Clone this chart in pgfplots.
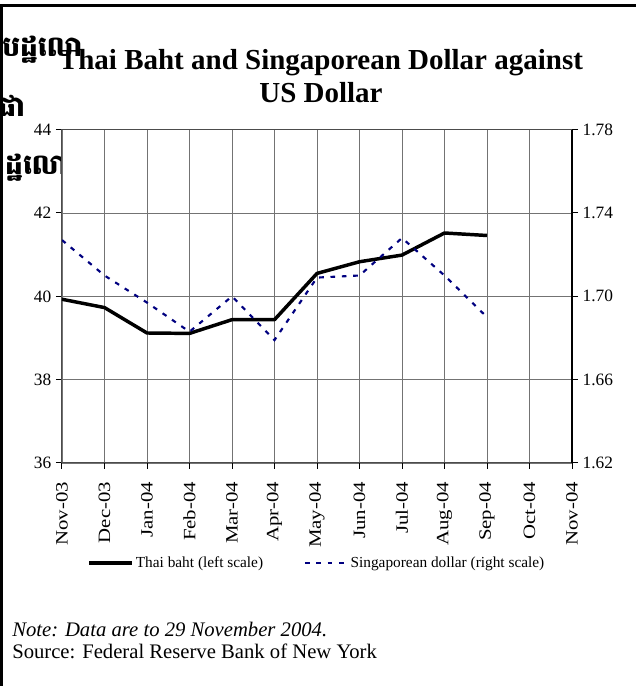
\documentclass[border=0pt]{standalone}
\usepackage{fontspec}
\setmainfont{Liberation Serif}
\newfontfamily\khmerfont[Script=Khmer]{Battambang}
\newfontfamily\stretchserif[FakeStretch=1.2]{Liberation Serif}
\usepackage{pgfplots}
\pgfplotsset{compat=1.18}
\definecolor{sgdblue}{HTML}{000080}

\begin{document}
\begin{tikzpicture}
\path[use as bounding box] (0pt,0pt) rectangle (477pt,514.5pt);

% Khmer fragments cut off at the left edge
\node[font=\khmerfont\bfseries\fontsize{21}{21}\selectfont, anchor=base east, inner sep=0] at (62pt,472pt) {ទីបដ្ឋលោ};
\node[font=\khmerfont\bfseries\fontsize{21}{21}\selectfont, anchor=base east, inner sep=0] at (19pt,427pt) {ផា};
\node[font=\khmerfont\bfseries\fontsize{21}{21}\selectfont, anchor=base east, inner sep=0] at (60pt,383.5pt) {ដ្ឋលោះ};

% left scale: Thai baht
\begin{axis}[
    at={(46.5pt,167.25pt)}, anchor=south west,
    scale only axis, width=382.5pt, height=250pt,
    xmin=0, xmax=12, ymin=36, ymax=44,
    xtick={0,...,12},
    xticklabels={Nov-03,Dec-03,Jan-04,Feb-04,Mar-04,Apr-04,May-04,Jun-04,Jul-04,Aug-04,Sep-04,Oct-04,Nov-04},
    ytick={36,38,40,42,44}, yticklabels={36,38,40,42,44},
    xtick pos=bottom, ytick pos=left,
    tick align=outside, major tick length=4.5pt,
    every tick/.style={black, line width=0.75pt},
    grid=major, major grid style={black!55, line width=0.6pt},
    axis line style={black!70, line width=0.75pt},
    xticklabel style={rotate=90, anchor=east, inner xsep=9.5pt, inner ysep=2pt, font=\fontsize{13}{13}\stretchserif},
    yticklabel style={font=\fontsize{13}{13}\selectfont},
    axis background/.style={fill=white},
    title={Thai Baht and Singaporean Dollar against\\US Dollar},
    title style={font=\bfseries\fontsize{21.75}{24.75}\selectfont, align=center,
        inner sep=0pt, at={(0.5,1)}, anchor=south, yshift=13.8pt, xshift=3pt},
]
\addplot[black, line width=2.6pt, line join=round] coordinates {
    (0,39.93) (1,39.73) (2,39.12) (3,39.11) (4,39.44) (5,39.44)
    (6,40.55) (7,40.83) (8,40.99) (9,41.52) (10,41.46)
};
\end{axis}

% right scale: Singaporean dollar
\begin{axis}[
    at={(46.5pt,167.25pt)}, anchor=south west,
    scale only axis, width=382.5pt, height=250pt,
    xmin=0, xmax=12, ymin=1.62, ymax=1.78,
    axis x line=none, axis y line*=right,
    ytick={1.62,1.66,1.70,1.74,1.78}, yticklabels={1.62,1.66,1.70,1.74,1.78},
    tick align=outside, major tick length=4.5pt,
    every tick/.style={black, line width=0.75pt},
    axis line style={-, black, line width=1.2pt},
    yticklabel style={font=\fontsize{13}{13}\selectfont},
    legend columns=2,
    legend image code/.code={\draw[#1] (0pt,0pt) -- (32pt,0pt);},
    legend cell align=left,
    legend style={draw=none, fill=none, at={(0.5,0)}, anchor=center, yshift=-75pt,
        font=\fontsize{11.5}{12}\selectfont, nodes={inner sep=1.5pt},
        /tikz/every even column/.append style={column sep=29pt}},
]
\addlegendimage{black, line width=2.6pt}
\addlegendentry{Thai baht (left scale)}
\addplot[sgdblue, line width=1.6pt, dash pattern=on 3.5pt off 5pt] coordinates {
    (0,1.727) (1,1.710) (2,1.697) (3,1.683) (4,1.700) (5,1.679)
    (6,1.709) (7,1.710) (8,1.728) (9,1.710) (10,1.690)
};
\addlegendentry{Singaporean dollar (right scale)}
\end{axis}

\node[anchor=base west, inner sep=0, font=\itshape\fontsize{15.5}{16}\selectfont] at (9pt,36.75pt) {Note: Data are to 29 November 2004.};
\node[anchor=base west, inner sep=0, font=\fontsize{15.5}{16}\selectfont] at (9pt,20.5pt) {Source: Federal Reserve Bank of New York};

% frame lines
\draw[line width=2.25pt] (0pt,510.4pt) -- (477pt,510.4pt);
\draw[line width=2.25pt] (1.1pt,510.4pt) -- (1.1pt,0pt);
\end{tikzpicture}
\end{document}
